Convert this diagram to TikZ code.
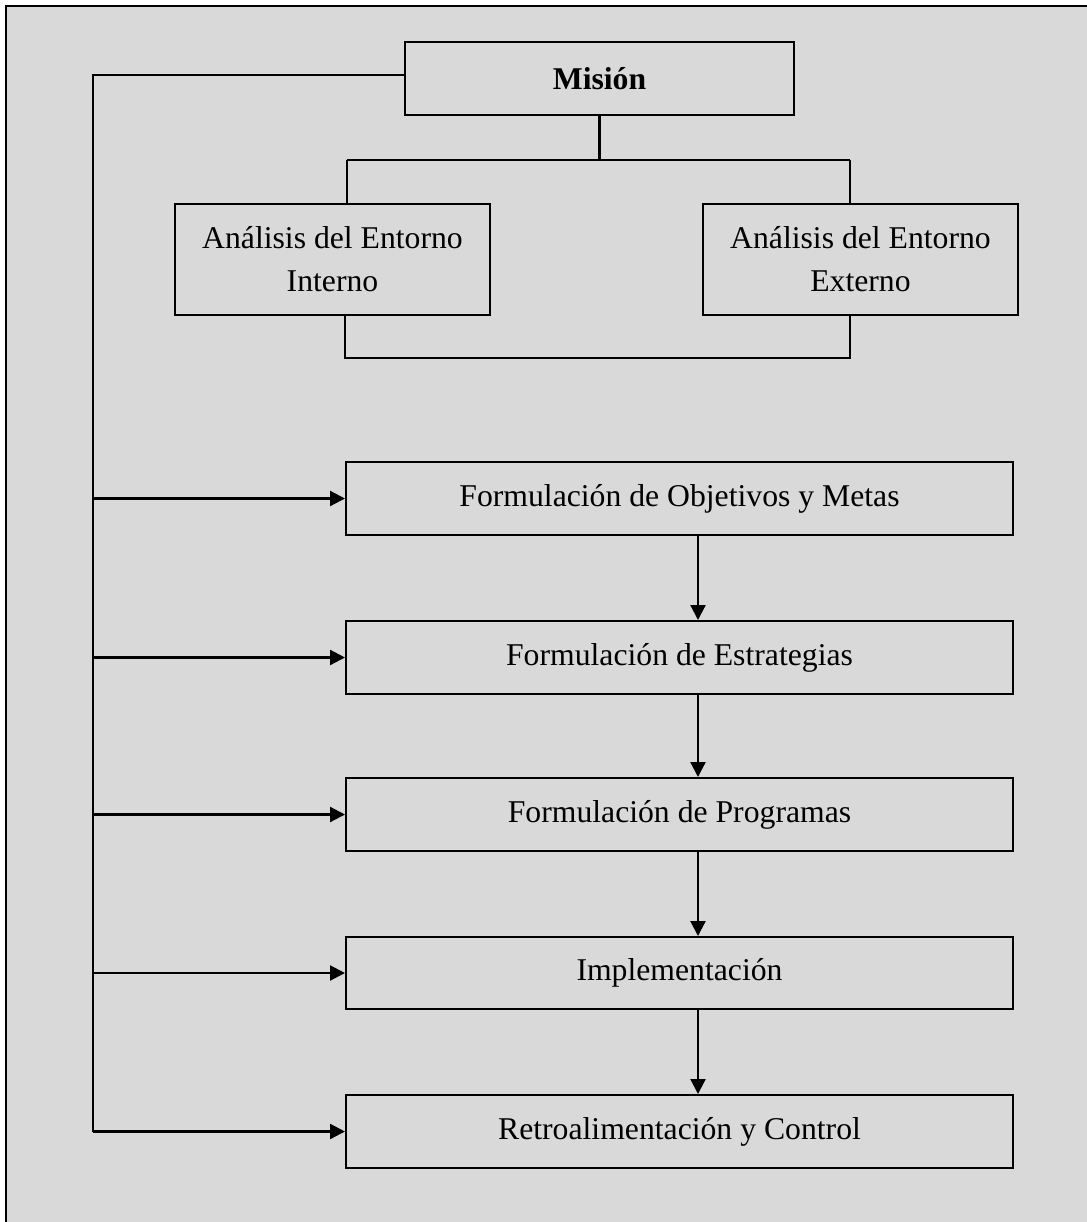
\documentclass[tikz,border=0pt]{standalone}
\usepackage{fontspec}
\setmainfont{Liberation Serif}
\usetikzlibrary{arrows.meta}
\definecolor{bg}{HTML}{D9D9D9}
\begin{document}
\begin{tikzpicture}[x=0.5pt,y=-0.5pt,
  box/.style={draw, line width=1pt, inner sep=0pt, align=center,
    font=\fontsize{15.85}{21.5}\selectfont},
  stepbox/.style={box, minimum width=333.5pt, minimum height=36.5pt},
  conn/.style={line width=1.1pt},
  arr/.style={conn, -{Triangle[length=7.5pt,width=7.5pt]}}]
\useasboundingbox (0,0) rectangle (1087,1222);
\clip (0,0) rectangle (1087,1222);
\fill[white] (0,0) rectangle (1087,1222);
\draw[fill=bg, line width=1.1pt] (6,6) rectangle (1120,1260);

\node[box, minimum width=194.5pt, minimum height=36.5pt] (mision) at (599.5,78.5) {\textbf{Misión}};
\node[box, minimum width=157.5pt, minimum height=55.5pt] (interno) at (332.5,259.5) {Análisis del Entorno\\Interno};
\node[box, minimum width=157.5pt, minimum height=55.5pt] (externo) at (860.5,259.5) {Análisis del Entorno\\Externo};

\node[stepbox] (obj) at (679.5,498.5) {Formulación de Objetivos y Metas};
\node[stepbox] (est) at (679.5,657.5) {Formulación de Estrategias};
\node[stepbox] (prog) at (679.5,814.5) {Formulación de Programas};
\node[stepbox, minimum height=36pt] (impl) at (679.5,973) {Implementación};
\node[stepbox] (retro) at (679.5,1131.5) {Retroalimentación y Control};

% branch from Mision to the two analyses
\coordinate (jl) at (347,160);
\coordinate (jr) at (850,160);
\draw[conn] (mision.south) -- (mision.south |- jl);
\draw[conn] (jl) -- (jr);
\draw[conn] (jl) -- (jl |- interno.north);
\draw[conn] (jr) -- (jr |- externo.north);

% bracket joining the two analyses
\coordinate (bl) at (345,358);
\coordinate (br) at (850,358);
\draw[conn] (bl |- interno.south) -- (bl) -- (br) -- (br |- externo.south);

% left feedback line
\coordinate (tl) at (93,75);
\coordinate (bot) at (93,1131.5);
\draw[conn] (mision.west |- tl) -- (tl) -- (bot);
\draw[arr] (tl |- obj.west) -- (obj.west);
\draw[arr] (tl |- est.west) -- (est.west);
\draw[arr] (tl |- prog.west) -- (prog.west);
\draw[arr] (tl |- impl.west) -- (impl.west);
\draw[arr] (bot) -- (retro.west);

% vertical chain
\coordinate (ax) at (698,0);
\draw[arr] (obj.south -| ax) -- (est.north -| ax);
\draw[arr] (est.south -| ax) -- (prog.north -| ax);
\draw[arr] (prog.south -| ax) -- (impl.north -| ax);
\draw[arr] (impl.south -| ax) -- (retro.north -| ax);
\end{tikzpicture}
\end{document}
